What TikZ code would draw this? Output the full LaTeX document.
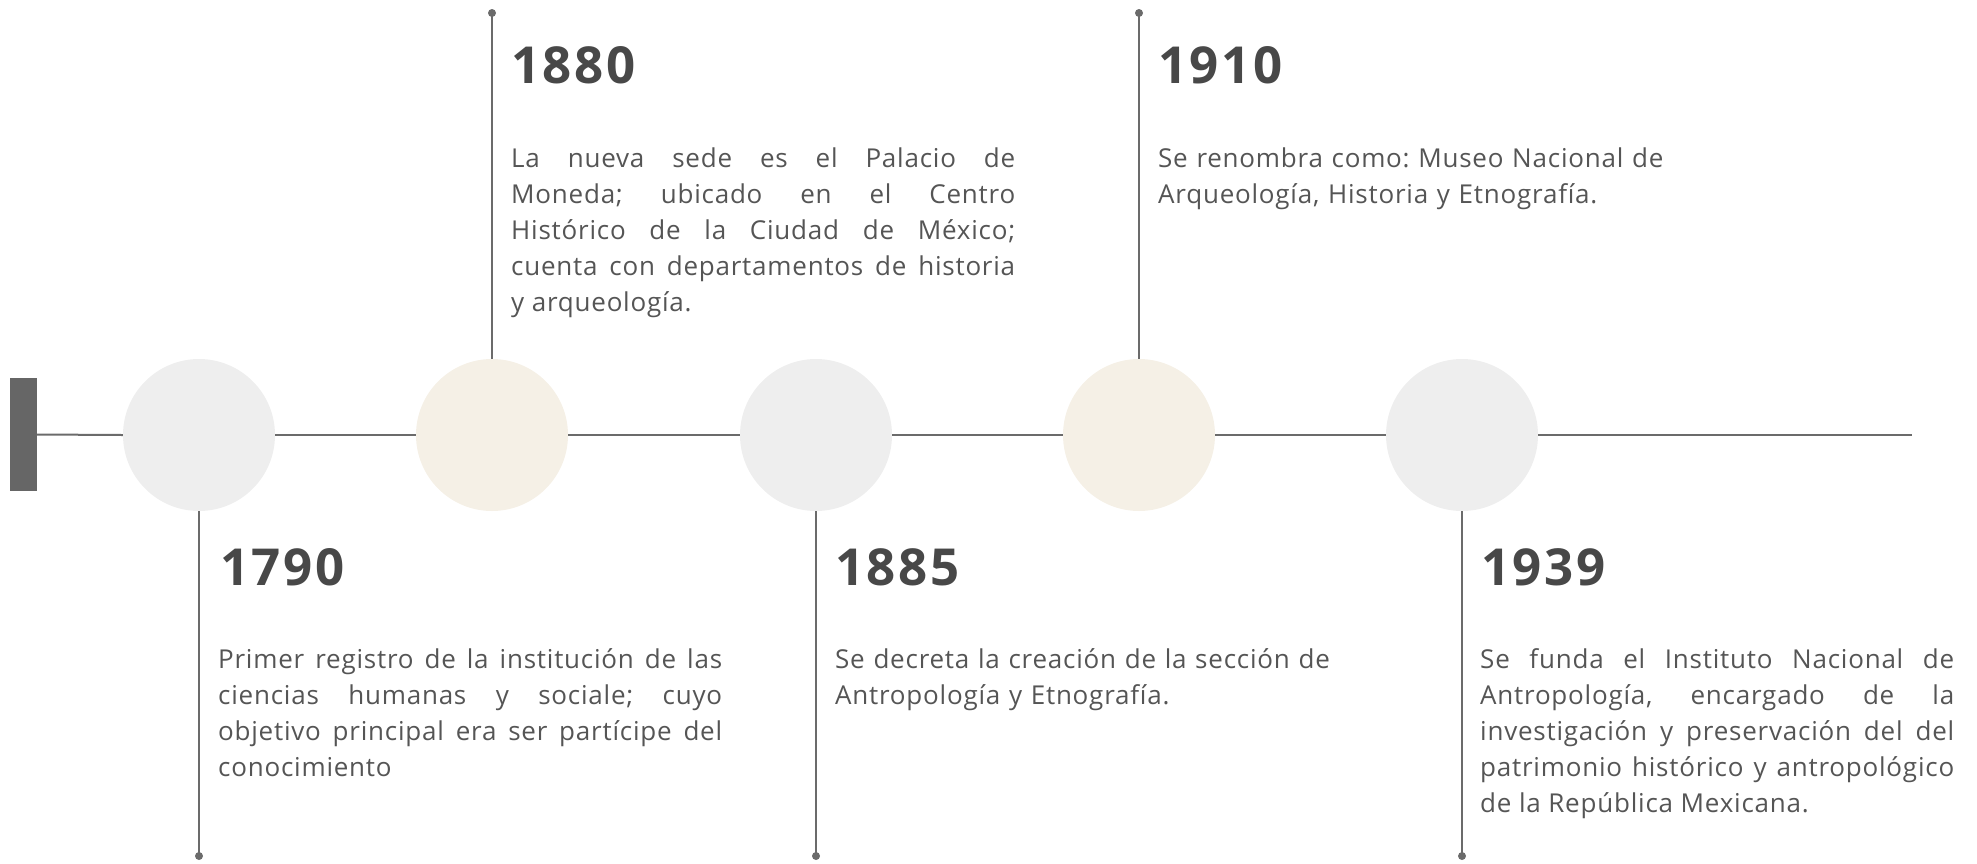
\documentclass[tikz,border=0pt]{standalone}
\usepackage{fontspec}
\setmainfont{Open Sans}
\newfontfamily\bodyfont{Open Sans}[LetterSpace=3]
\newfontfamily\yearfont{Open Sans}[LetterSpace=5]

\definecolor{linegray}{HTML}{6B6B6B}
\definecolor{bargray}{HTML}{666666}
\definecolor{circgray}{HTML}{EEEEEE}
\definecolor{circbeige}{HTML}{F5F0E6}
\definecolor{yeargray}{HTML}{484848}
\definecolor{bodygray}{HTML}{555555}

\tikzset{
  stage/.style={circle, minimum size=152pt, inner sep=0pt},
  yearlbl/.style={anchor=base west, inner sep=0pt, text=yeargray, font=\yearfont\fontsize{51}{60}\selectfont\bfseries},
  infotxt/.style={anchor=base west, inner sep=0pt, text=bodygray, font=\bodyfont\fontsize{26}{36}\selectfont\frenchspacing},
  link/.style={draw=linegray, line width=2pt},
}

\begin{document}
\begin{tikzpicture}[x=1pt,y=-1pt]
\useasboundingbox (0,0) rectangle (1977,863);
% line
\node[fill=bargray, minimum width=27pt, minimum height=113pt, inner sep=0pt] (start) at (23.5,434.5) {};
\node[stage, fill=circgray] (c1) at (199,435) {};
\node[stage, fill=circbeige] (c2) at (492,435) {};
\node[stage, fill=circgray] (c3) at (816,435) {};
\node[stage, fill=circbeige] (c4) at (1139,435) {};
\node[stage, fill=circgray] (c5) at (1462,435) {};
\coordinate (stop) at (1912,435);
\draw[link] (start.east) -- (c1.west);
\draw[link] (c1.east) -- (c2.west);
\draw[link] (c2.east) -- (c3.west);
\draw[link] (c3.east) -- (c4.west);
\draw[link] (c4.east) -- (c5.west);
\draw[link] (c5.east) -- (stop);
% stems
\coordinate (p1) at (199,856);
\coordinate (p2) at (492,13);
\coordinate (p3) at (816,856);
\coordinate (p4) at (1139,13);
\coordinate (p5) at (1462,856);
\draw[link] (c1.south) -- (p1);
\draw[link] (c2.north) -- (p2);
\draw[link] (c3.south) -- (p3);
\draw[link] (c4.north) -- (p4);
\draw[link] (c5.south) -- (p5);
\foreach \p in {p1,p2,p3,p4,p5}
  \fill[linegray] (\p) circle (4);
% texts
\node[yearlbl] (y1790) at (220,585) {1790};
\node[infotxt, text width=504pt, align=justify] (d1790) at (218,668) {Primer registro de la institución de las\linebreak ciencias humanas y sociale; cuyo\linebreak objetivo principal era ser partícipe del\linebreak conocimiento};
\node[yearlbl] (y1880) at (511,83) {1880};
\node[infotxt, text width=504pt, align=justify] (d1880) at (511,167) {La nueva sede es el Palacio de\linebreak Moneda; ubicado en el Centro\linebreak Histórico de la Ciudad de México;\linebreak cuenta con departamentos de historia\linebreak y arqueología.};
\node[yearlbl] (y1885) at (835,585) {1885};
\node[infotxt, text width=560pt, align=left] (d1885) at (835,668) {Se decreta la creación de la sección de\\Antropología y Etnografía.};
\node[yearlbl] (y1910) at (1158,83) {1910};
\node[infotxt, text width=560pt, align=left] (d1910) at (1158,167) {Se renombra como: Museo Nacional de\\Arqueología, Historia y Etnografía.};
\node[yearlbl] (y1939) at (1481,585) {1939};
\node[infotxt, text width=474pt, align=justify] (d1939) at (1480,668) {Se funda el Instituto Nacional de\linebreak Antropología, encargado de la\linebreak investigación y preservación del del\linebreak patrimonio histórico y antropológico\linebreak de la República Mexicana.};
\end{tikzpicture}
\end{document}
